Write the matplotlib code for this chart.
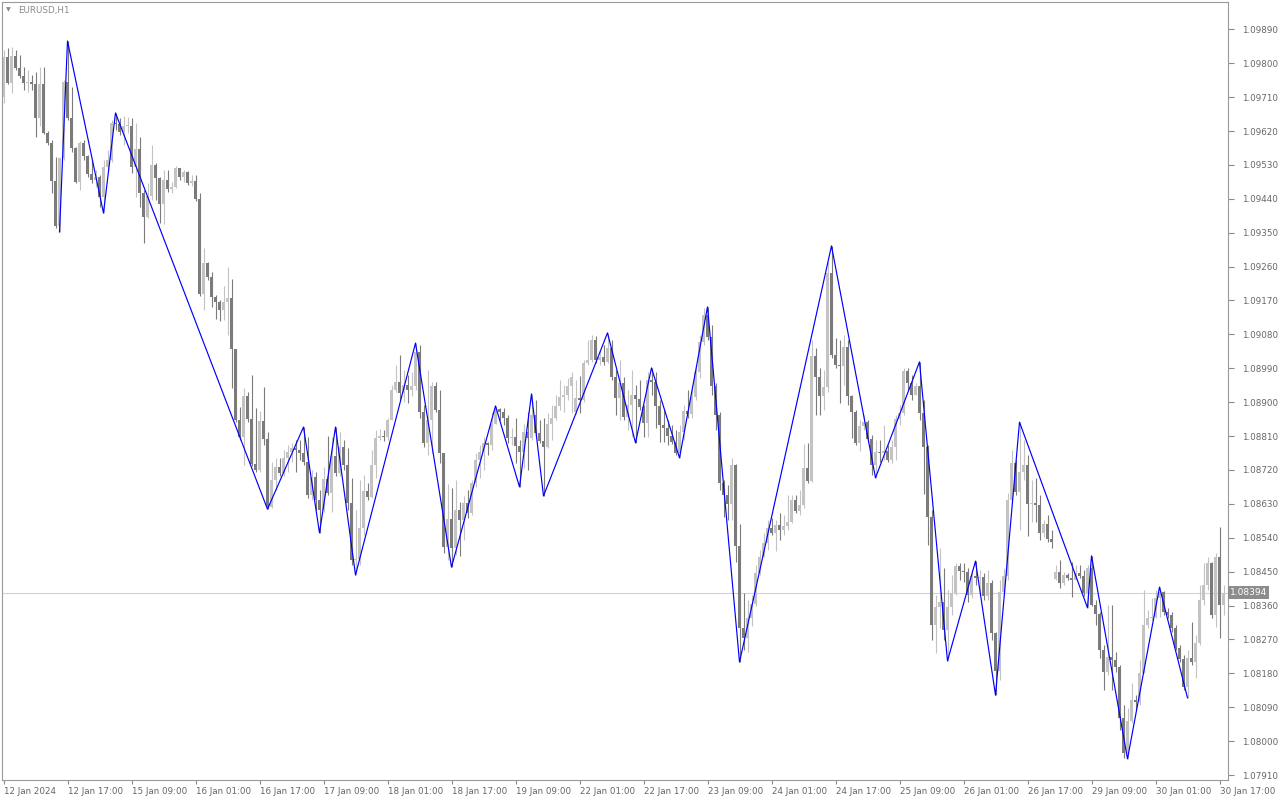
import numpy as np
import matplotlib.pyplot as plt

# EURUSD H1, 12 Jan 2024 01:00 .. 30 Jan 2024 ~18:00 (306 bars)
first_open = 1.09710

closes = [
    1.09816, 1.09747, 1.09819, 1.09787, 1.09766, 1.09747, 1.09750, 1.09745, 1.09654, 1.09745,
    1.09615, 1.09588, 1.09487, 1.09368, 1.09548, 1.09750, 1.09654, 1.09575, 1.09485, 1.09588,
    1.09554, 1.09506, 1.09490, 1.09498, 1.09445, 1.09524, 1.09543, 1.09641, 1.09639, 1.09617,
    1.09633, 1.09633, 1.09524, 1.09572, 1.09455, 1.09392, 1.09447, 1.09530, 1.09495, 1.09426,
    1.09490, 1.09466, 1.09471, 1.09522, 1.09498, 1.09511, 1.09482, 1.09487, 1.09439, 1.09187,
    1.09269, 1.09232, 1.09179, 1.09166, 1.09145, 1.09166, 1.09177, 1.09041, 1.08853, 1.08807,
    1.08916, 1.08855, 1.08736, 1.08720, 1.08850, 1.08802, 1.08622, 1.08693, 1.08728, 1.08712,
    1.08752, 1.08768, 1.08778, 1.08773, 1.08765, 1.08741, 1.08653, 1.08701, 1.08640, 1.08614,
    1.08696, 1.08659, 1.08757, 1.08712, 1.08781, 1.08733, 1.08632, 1.08481, 1.08484, 1.08566,
    1.08664, 1.08648, 1.08733, 1.08805, 1.08810, 1.08807, 1.08853, 1.08932, 1.08954, 1.08924,
    1.08946, 1.08932, 1.08943, 1.09033, 1.08874, 1.08792, 1.08853, 1.08943, 1.08879, 1.08765,
    1.08515, 1.08590, 1.08513, 1.08614, 1.08587, 1.08632, 1.08606, 1.08685, 1.08746, 1.08768,
    1.08792, 1.08786, 1.08842, 1.08882, 1.08874, 1.08858, 1.08805, 1.08807, 1.08784, 1.08768,
    1.08821, 1.08805, 1.08866, 1.08818, 1.08797, 1.08781, 1.08842, 1.08858, 1.08890, 1.08914,
    1.08919, 1.08943, 1.08967, 1.08911, 1.08906, 1.09004, 1.09012, 1.09065, 1.09012, 1.09020,
    1.09007, 1.09044, 1.08967, 1.08911, 1.08951, 1.08861, 1.08892, 1.08919, 1.08908, 1.08887,
    1.08845, 1.08959, 1.08954, 1.08890, 1.08839, 1.08831, 1.08810, 1.08794, 1.08765, 1.08821,
    1.08876, 1.08869, 1.08914, 1.08980, 1.09060, 1.09131, 1.09073, 1.08943, 1.08866, 1.08685,
    1.08653, 1.08630, 1.08733, 1.08518, 1.08300, 1.08274, 1.08327, 1.08364, 1.08446, 1.08489,
    1.08526, 1.08566, 1.08553, 1.08574, 1.08561, 1.08571, 1.08582, 1.08640, 1.08611, 1.08627,
    1.08725, 1.08691, 1.09023, 1.08967, 1.08916, 1.08940, 1.09243, 1.09025, 1.08999, 1.08996,
    1.09046, 1.08916, 1.08874, 1.08792, 1.08837, 1.08847, 1.08802, 1.08733, 1.08768, 1.08765,
    1.08770, 1.08746, 1.08781, 1.08855, 1.08871, 1.08983, 1.08951, 1.08919, 1.08943, 1.08871,
    1.08781, 1.08595, 1.08308, 1.08356, 1.08369, 1.08295, 1.08356, 1.08393, 1.08465, 1.08452,
    1.08449, 1.08388, 1.08438, 1.08433, 1.08436, 1.08385, 1.08420, 1.08287, 1.08186, 1.08396,
    1.08438, 1.08640, 1.08738, 1.08661, 1.08715, 1.08733, 1.08630, 1.08632, 1.08627, 1.08553,
    1.08576, 1.08537, 1.08529, 1.08449, 1.08420, 1.08441, 1.08433, 1.08428, 1.08446, 1.08438,
    1.08393, 1.08460, 1.08361, 1.08338, 1.08242, 1.08184, 1.08223, 1.08215, 1.08197, 1.08061,
    1.07968, 1.08053, 1.08109, 1.08104, 1.08181, 1.08308, 1.08327, 1.08330, 1.08380, 1.08396,
    1.08343, 1.08335, 1.08300, 1.08247, 1.08218, 1.08144, 1.08221, 1.08210, 1.08261, 1.08375,
    1.08415, 1.08473, 1.08335, 1.08489, 1.08361, 1.08394,
]

highs = [
    1.09835, 1.09840, 1.09843, 1.09835, 1.09822, 1.09790, 1.09782, 1.09769, 1.09777, 1.09790,
    1.09790, 1.09620, 1.09596, 1.09551, 1.09551, 1.09755, 1.09859, 1.09737, 1.09577, 1.09593,
    1.09596, 1.09556, 1.09543, 1.09516, 1.09503, 1.09543, 1.09569, 1.09649, 1.09668, 1.09654,
    1.09660, 1.09657, 1.09654, 1.09641, 1.09604, 1.09463, 1.09482, 1.09583, 1.09535, 1.09498,
    1.09516, 1.09516, 1.09485, 1.09527, 1.09522, 1.09516, 1.09514, 1.09503, 1.09503, 1.09455,
    1.09309, 1.09272, 1.09246, 1.09184, 1.09171, 1.09208, 1.09259, 1.09227, 1.09041, 1.08887,
    1.08938, 1.08927, 1.08972, 1.08885, 1.08876, 1.08940, 1.08821, 1.08741, 1.08752, 1.08752,
    1.08773, 1.08786, 1.08792, 1.08800, 1.08800, 1.08834, 1.08807, 1.08720, 1.08715, 1.08667,
    1.08728, 1.08810, 1.08807, 1.08834, 1.08821, 1.08800, 1.08778, 1.08699, 1.08614, 1.08693,
    1.08707, 1.08685, 1.08773, 1.08826, 1.08829, 1.08826, 1.08858, 1.08946, 1.08999, 1.09025,
    1.08985, 1.08972, 1.08980, 1.09057, 1.09052, 1.08892, 1.08985, 1.08954, 1.08954, 1.08932,
    1.08765, 1.08683, 1.08672, 1.08693, 1.08635, 1.08651, 1.08667, 1.08693, 1.08765, 1.08786,
    1.08807, 1.08794, 1.08874, 1.08890, 1.08885, 1.08885, 1.08866, 1.08831, 1.08858, 1.08800,
    1.08842, 1.08874, 1.08922, 1.08906, 1.08853, 1.08858, 1.08871, 1.08892, 1.08919, 1.08959,
    1.08946, 1.08964, 1.08980, 1.08959, 1.08969, 1.09012, 1.09065, 1.09078, 1.09076, 1.09038,
    1.09052, 1.09084, 1.09065, 1.08985, 1.09012, 1.08967, 1.08932, 1.08985, 1.08946, 1.08959,
    1.08892, 1.08980, 1.08991, 1.08980, 1.08906, 1.08879, 1.08853, 1.08839, 1.08826, 1.08839,
    1.08892, 1.08932, 1.08946, 1.08999, 1.09078, 1.09150, 1.09153, 1.09105, 1.08951, 1.08874,
    1.08693, 1.08680, 1.08752, 1.08735, 1.08577, 1.08393, 1.08375, 1.08388, 1.08468, 1.08507,
    1.08553, 1.08587, 1.08592, 1.08587, 1.08606, 1.08600, 1.08653, 1.08653, 1.08653, 1.08667,
    1.08789, 1.08792, 1.09065, 1.09044, 1.08991, 1.08985, 1.09272, 1.09315, 1.09070, 1.09065,
    1.09078, 1.09065, 1.08919, 1.08880, 1.08853, 1.08866, 1.08853, 1.08813, 1.08800, 1.08800,
    1.08839, 1.08786, 1.08800, 1.08866, 1.08892, 1.08991, 1.08991, 1.08972, 1.08951, 1.09007,
    1.08906, 1.08786, 1.08614, 1.08388, 1.08513, 1.08460, 1.08401, 1.08441, 1.08473, 1.08473,
    1.08473, 1.08460, 1.08454, 1.08478, 1.08454, 1.08446, 1.08454, 1.08428, 1.08290, 1.08428,
    1.08460, 1.08659, 1.08773, 1.08746, 1.08847, 1.08800, 1.08760, 1.08693, 1.08699, 1.08653,
    1.08587, 1.08600, 1.08561, 1.08468, 1.08481, 1.08449, 1.08446, 1.08476, 1.08468, 1.08468,
    1.08454, 1.08468, 1.08492, 1.08375, 1.08343, 1.08255, 1.08361, 1.08361, 1.08237, 1.08202,
    1.08096, 1.08088, 1.08154, 1.08122, 1.08215, 1.08401, 1.08348, 1.08380, 1.08401, 1.08409,
    1.08399, 1.08354, 1.08343, 1.08308, 1.08255, 1.08229, 1.08242, 1.08316, 1.08282, 1.08415,
    1.08473, 1.08489, 1.08476, 1.08499, 1.08569, 1.08415,
]

lows = [
    1.09694, 1.09745, 1.09721, 1.09782, 1.09761, 1.09729, 1.09723, 1.09729, 1.09604, 1.09633,
    1.09612, 1.09583, 1.09455, 1.09362, 1.09352, 1.09543, 1.09649, 1.09564, 1.09482, 1.09463,
    1.09543, 1.09498, 1.09482, 1.09471, 1.09418, 1.09402, 1.09516, 1.09538, 1.09623, 1.09609,
    1.09583, 1.09615, 1.09508, 1.09445, 1.09418, 1.09323, 1.09389, 1.09437, 1.09437, 1.09376,
    1.09373, 1.09458, 1.09455, 1.09469, 1.09490, 1.09485, 1.09477, 1.09474, 1.09434, 1.09182,
    1.09145, 1.09224, 1.09153, 1.09121, 1.09115, 1.09118, 1.09078, 1.08938, 1.08847, 1.08800,
    1.08733, 1.08847, 1.08731, 1.08715, 1.08715, 1.08786, 1.08616, 1.08618, 1.08667, 1.08704,
    1.08704, 1.08715, 1.08741, 1.08715, 1.08746, 1.08733, 1.08646, 1.08640, 1.08614, 1.08553,
    1.08608, 1.08653, 1.08608, 1.08704, 1.08704, 1.08720, 1.08614, 1.08468, 1.08441, 1.08468,
    1.08547, 1.08640, 1.08646, 1.08699, 1.08800, 1.08797, 1.08800, 1.08853, 1.08927, 1.08906,
    1.08900, 1.08898, 1.08916, 1.08932, 1.08858, 1.08781, 1.08760, 1.08765, 1.08874, 1.08738,
    1.08499, 1.08481, 1.08462, 1.08494, 1.08492, 1.08534, 1.08592, 1.08600, 1.08675, 1.08699,
    1.08720, 1.08760, 1.08773, 1.08842, 1.08853, 1.08839, 1.08792, 1.08786, 1.08738, 1.08675,
    1.08725, 1.08720, 1.08800, 1.08807, 1.08792, 1.08651, 1.08778, 1.08800, 1.08853, 1.08879,
    1.08874, 1.08906, 1.08871, 1.08869, 1.08871, 1.08900, 1.08999, 1.09007, 1.09004, 1.08999,
    1.08999, 1.09004, 1.08959, 1.08866, 1.08853, 1.08853, 1.08826, 1.08807, 1.08792, 1.08879,
    1.08807, 1.08807, 1.08919, 1.08831, 1.08794, 1.08794, 1.08786, 1.08789, 1.08760, 1.08752,
    1.08800, 1.08858, 1.08858, 1.08906, 1.08964, 1.09052, 1.09065, 1.08919, 1.08826, 1.08667,
    1.08595, 1.08587, 1.08587, 1.08476, 1.08210, 1.08242, 1.08237, 1.08306, 1.08359, 1.08441,
    1.08489, 1.08507, 1.08547, 1.08505, 1.08534, 1.08547, 1.08561, 1.08579, 1.08606, 1.08600,
    1.08619, 1.08685, 1.08688, 1.08866, 1.08866, 1.08879, 1.08927, 1.09017, 1.08991, 1.08898,
    1.08946, 1.08892, 1.08805, 1.08786, 1.08770, 1.08826, 1.08794, 1.08707, 1.08699, 1.08741,
    1.08746, 1.08741, 1.08738, 1.08746, 1.08839, 1.08866, 1.08932, 1.08906, 1.08919, 1.08853,
    1.08656, 1.08521, 1.08269, 1.08234, 1.08300, 1.08269, 1.08213, 1.08335, 1.08388, 1.08428,
    1.08423, 1.08369, 1.08380, 1.08415, 1.08388, 1.08375, 1.08375, 1.08269, 1.08122, 1.08162,
    1.08388, 1.08428, 1.08640, 1.08653, 1.08561, 1.08693, 1.08544, 1.08582, 1.08582, 1.08534,
    1.08542, 1.08529, 1.08513, 1.08428, 1.08407, 1.08415, 1.08428, 1.08383, 1.08428, 1.08433,
    1.08385, 1.08354, 1.08359, 1.08308, 1.08221, 1.08136, 1.08176, 1.08136, 1.08184, 1.08030,
    1.07955, 1.07953, 1.08048, 1.08083, 1.08096, 1.08181, 1.08300, 1.08322, 1.08327, 1.08330,
    1.08335, 1.08327, 1.08290, 1.08242, 1.08210, 1.08136, 1.08115, 1.08202, 1.08168, 1.08255,
    1.08361, 1.08401, 1.08327, 1.08303, 1.08274, 1.08335,
]

# weekend gaps: Monday opens
gap_opens = {143: 1.08874, 263: 1.08430}

# zigzag pivots (bar index, L = low / H = high)
zz_bars = [14, 16, 25, 28, 66, 75, 79, 83, 88, 103, 112, 123, 129, 132, 135, 151, 158,
           162, 169, 176, 184, 207, 218, 229, 236, 243, 248, 254, 271, 272, 281, 289, 296]
zz_kind = "LHLHLHLHLHLHLHLHLHLHLHLHLHLHLHLHL"

time_labels = ["12 Jan 2024", "12 Jan 17:00", "15 Jan 09:00", "16 Jan 01:00", "16 Jan 17:00",
               "17 Jan 09:00", "18 Jan 01:00", "18 Jan 17:00", "19 Jan 09:00", "22 Jan 01:00",
               "22 Jan 17:00", "23 Jan 09:00", "24 Jan 01:00", "24 Jan 17:00", "25 Jan 09:00",
               "26 Jan 01:00", "26 Jan 17:00", "29 Jan 09:00", "30 Jan 01:00", "30 Jan 17:00"]
last_price = 1.08394

up_col = "#c3c3c3"
dn_col = "#7b7b7b"
axis_col = "#8a8a8a"
text_col = "#666666"

c = np.array(closes)
h = np.array(highs)
l = np.array(lows)
o = np.concatenate([[first_open], c[:-1]])
for i, v in gap_opens.items():
    o[i] = v
x = np.arange(len(c))
cols = np.where(c >= o, up_col, dn_col)

fig = plt.figure(figsize=(12.8, 8), dpi=100)
ax = fig.add_axes([2 / 1280, 20 / 800, 1226 / 1280, 778 / 800])

ax.axhline(last_price, color="#d2d2d2", lw=0.8, zorder=0)

ax.vlines(x, l, h, colors=cols, lw=0.8, zorder=1)
body_lo = np.minimum(o, c)
body_h = np.maximum(np.abs(c - o), 0.000027)
ax.bar(x, body_h, bottom=body_lo, width=0.86, color=cols, linewidth=0, zorder=2,
       antialiased=False)

zz_y = [l[b] if k == "L" else h[b] for b, k in zip(zz_bars, zz_kind)]
ax.plot(zz_bars, zz_y, color="#0000ff", lw=0.85, zorder=3)

ax.set_xlim(-0.375, 306.125)
ax.set_ylim(1.078969, 1.099625)

# price axis on the right
yt = np.arange(1.07910, 1.09891, 0.0009)
ax.yaxis.tick_right()
ax.set_yticks(yt)
ax.set_yticklabels(["%.5f" % v for v in yt])
ax.tick_params(axis="y", direction="out", length=4, width=0.8, colors=axis_col,
               labelcolor=text_col, labelsize=6.3, pad=6)

ax.set_xticks(np.arange(0, 306, 16))
ax.set_xticklabels(time_labels, ha="left")
ax.tick_params(axis="x", direction="out", length=3, width=0.8, colors=axis_col,
               labelcolor=text_col, labelsize=6.3, pad=2)

for s in ax.spines.values():
    s.set_color("#9a9a9a")
    s.set_linewidth(0.8)

# current price tag
ax.text(1.0015, last_price, "1.08394", transform=ax.get_yaxis_transform(),
        ha="left", va="center", fontsize=6.5, color="white",
        bbox=dict(boxstyle="square,pad=0.22", fc="#8c8c8c", ec="none"), zorder=5,
        clip_on=False)

fig.text(6 / 1280, 1 - 10 / 800, "\u25BC", fontsize=4.5, color="#8a8a8a", va="center")
fig.text(18 / 1280, 1 - 10 / 800, "EURUSD,H1", fontsize=6.3, color="#8a8a8a", va="center")

fig.savefig("out.png", dpi=100, facecolor="white")
